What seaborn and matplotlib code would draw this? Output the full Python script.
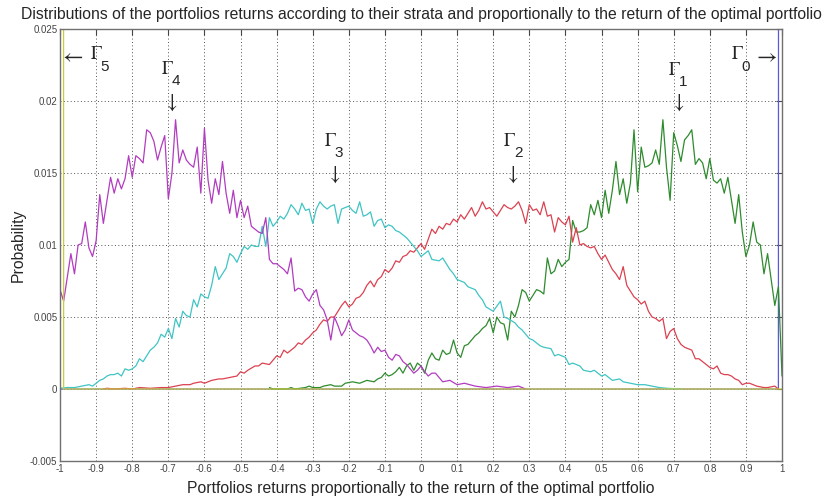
import numpy as np
import pandas as pd
import seaborn as sns
import matplotlib
import matplotlib.pyplot as plt

matplotlib.use('Agg')

sns.set_style('white')
plt.rcParams['font.family'] = ['Liberation Sans', 'DejaVu Sans']
plt.rcParams['mathtext.fontset'] = 'stix'

# strata distributions (x = return / optimal return)
g0_x = [-1.00, 0.99, 1.00]
g0_p = [0.0, 0.0, 1.0]

g1_x = [-0.42, -0.41, -0.37, -0.36, -0.35, -0.32, -0.31, -0.30, -0.28, -0.27,
        -0.25, -0.24, -0.22, -0.21, -0.19, -0.17, -0.15, -0.13, -0.12, -0.11,
        -0.10, -0.09, -0.08, -0.07, -0.06, -0.05, -0.04, -0.03, -0.02, -0.01,
        0.00, 0.01, 0.02, 0.03, 0.04, 0.05, 0.06, 0.07, 0.08, 0.09,
        0.10, 0.11, 0.12, 0.13, 0.14, 0.15, 0.16, 0.17, 0.18, 0.19,
        0.20, 0.21, 0.22, 0.23, 0.24, 0.25, 0.26, 0.27, 0.28, 0.29,
        0.30, 0.31, 0.32, 0.33, 0.34, 0.35, 0.36, 0.37, 0.38, 0.39,
        0.40, 0.41, 0.42, 0.43, 0.44, 0.45, 0.46, 0.47, 0.48, 0.49,
        0.50, 0.51, 0.52, 0.53, 0.54, 0.55, 0.56, 0.57, 0.58, 0.59,
        0.60, 0.61, 0.62, 0.63, 0.64, 0.65, 0.66, 0.67, 0.68, 0.69,
        0.70, 0.71, 0.72, 0.73, 0.74, 0.75, 0.76, 0.77, 0.78, 0.79,
        0.80, 0.81, 0.82, 0.83, 0.84, 0.85, 0.86, 0.87, 0.88, 0.89,
        0.90, 0.91, 0.92, 0.93, 0.94, 0.95, 0.96, 0.97, 0.98, 0.99,
        1.00]
g1_p = [.0001, .0000, .0000, .0001, .0000, .0001, .0002, .0001, .0001, .0002,
        .0003, .0002, .0002, .0004, .0005, .0004, .0006, .0005, .0007, .0008,
        .0011, .0009, .0010, .0012, .0015, .0011, .0016, .0018, .0013, .0018,
        .0016, .0011, .0020, .0025, .0021, .0020, .0027, .0024, .0025, .0034,
        .0025, .0022, .0030, .0031, .0034, .0037, .0039, .0042, .0044, .0049,
        .0039, .0050, .0046, .0045, .0034, .0054, .0050, .0058, .0069, .0067,
        .0061, .0065, .0069, .0068, .0066, .0091, .0080, .0082, .0090, .0085,
        .0088, .0090, .0117, .0109, .0109, .0110, .0112, .0128, .0121, .0131,
        .0119, .0138, .0122, .0138, .0158, .0135, .0146, .0129, .0143, .0180,
        .0137, .0168, .0154, .0155, .0157, .0166, .0156, .0187, .0154, .0131,
        .0178, .0169, .0158, .0173, .0176, .0180, .0156, .0160, .0157, .0146,
        .0160, .0145, .0143, .0146, .0136, .0147, .0131, .0115, .0135, .0109,
        .0092, .0100, .0116, .0102, .0100, .0080, .0094, .0076, .0058, .0071,
        .0009]

g2_x = [-0.88, -0.87, -0.85, -0.82, -0.80, -0.78, -0.75, -0.72, -0.70, -0.68,
        -0.66, -0.64, -0.63, -0.61, -0.60, -0.58, -0.56, -0.55, -0.53, -0.51,
        -0.50, -0.49, -0.48, -0.46, -0.45, -0.44, -0.42, -0.41, -0.40, -0.39,
        -0.38, -0.37, -0.36, -0.35, -0.34, -0.33, -0.32, -0.31, -0.30, -0.29,
        -0.28, -0.27, -0.26, -0.25, -0.24, -0.23, -0.22, -0.21, -0.20, -0.19,
        -0.18, -0.17, -0.16, -0.15, -0.14, -0.13, -0.12, -0.11, -0.10, -0.09,
        -0.08, -0.07, -0.06, -0.05, -0.04, -0.03, -0.02, -0.01, 0.00, 0.01,
        0.02, 0.03, 0.04, 0.05, 0.06, 0.07, 0.08, 0.09, 0.10, 0.11,
        0.12, 0.13, 0.14, 0.15, 0.16, 0.17, 0.18, 0.19, 0.20, 0.21,
        0.22, 0.23, 0.24, 0.25, 0.26, 0.27, 0.28, 0.29, 0.30, 0.31,
        0.32, 0.33, 0.34, 0.35, 0.36, 0.37, 0.38, 0.39, 0.40, 0.41,
        0.42, 0.43, 0.44, 0.45, 0.46, 0.47, 0.48, 0.49, 0.50, 0.51,
        0.52, 0.53, 0.54, 0.55, 0.56, 0.57, 0.58, 0.59, 0.60, 0.61,
        0.62, 0.63, 0.64, 0.65, 0.66, 0.67, 0.68, 0.69, 0.70, 0.71,
        0.72, 0.73, 0.74, 0.75, 0.76, 0.77, 0.78, 0.79, 0.80, 0.81,
        0.82, 0.83, 0.84, 0.85, 0.86, 0.87, 0.88, 0.89, 0.90, 0.91,
        0.93, 0.95, 0.96, 0.98, 0.99]
g2_p = [.0000, .00005, .0000, .00005, .0000, .0001, .00005, .0001, .0001, .0002,
        .0003, .0003, .0004, .0005, .0004, .0006, .0007, .0007, .0008, .0009,
        .0012, .0011, .0013, .0016, .0016, .0018, .0017, .0020, .0023, .0022,
        .0027, .0025, .0027, .0029, .0032, .0031, .0034, .0036, .0039, .0041,
        .0045, .0048, .0047, .0050, .0050, .0054, .0058, .0061, .0057, .0059,
        .0063, .0064, .0067, .0072, .0075, .0071, .0076, .0078, .0083, .0081,
        .0084, .0089, .0088, .0092, .0093, .0096, .0095, .0098, .0101, .0097,
        .0104, .0111, .0108, .0113, .0111, .0115, .0114, .0118, .0116, .0121,
        .0118, .0122, .0126, .0120, .0124, .0130, .0125, .0126, .0123, .0120,
        .0124, .0128, .0126, .0125, .0127, .0130, .0124, .0115, .0128, .0124,
        .0125, .0121, .0130, .0120, .0121, .0109, .0119, .0116, .0114, .0120,
        .0102, .0112, .0100, .0101, .0099, .0098, .0099, .0094, .0090, .0093,
        .0088, .0083, .0080, .0076, .0085, .0072, .0068, .0064, .0062, .0059,
        .0061, .0054, .0050, .0049, .0047, .0049, .0035, .0040, .0042, .0035,
        .0031, .0029, .0028, .0027, .0021, .0021, .0019, .0017, .0015, .0014,
        .0016, .0011, .0010, .0010, .0009, .0007, .0006, .0003, .0004, .0004,
        .0002, .0001, .0001, .0002, .0000]

g3_x = [-1.00, -0.98, -0.96, -0.94, -0.92, -0.91, -0.89, -0.88, -0.87, -0.86,
        -0.85, -0.84, -0.83, -0.82, -0.81, -0.80, -0.79, -0.78, -0.77, -0.76,
        -0.75, -0.74, -0.73, -0.72, -0.71, -0.70, -0.69, -0.68, -0.67, -0.66,
        -0.65, -0.64, -0.63, -0.62, -0.61, -0.60, -0.59, -0.58, -0.57, -0.56,
        -0.55, -0.54, -0.53, -0.52, -0.51, -0.50, -0.49, -0.48, -0.47, -0.46,
        -0.45, -0.44, -0.43, -0.42, -0.41, -0.40, -0.39, -0.38, -0.37, -0.36,
        -0.35, -0.34, -0.33, -0.32, -0.31, -0.30, -0.29, -0.28, -0.27, -0.26,
        -0.25, -0.24, -0.23, -0.22, -0.21, -0.20, -0.19, -0.18, -0.17, -0.16,
        -0.15, -0.14, -0.13, -0.12, -0.11, -0.10, -0.09, -0.08, -0.07, -0.06,
        -0.05, -0.04, -0.03, -0.02, -0.01, 0.00, 0.02, 0.03, 0.05, 0.06,
        0.08, 0.09, 0.10, 0.11, 0.12, 0.13, 0.15, 0.16, 0.17, 0.18,
        0.20, 0.22, 0.23, 0.24, 0.26, 0.27, 0.28, 0.30, 0.31, 0.33,
        0.34, 0.36, 0.37, 0.38, 0.40, 0.41, 0.42, 0.44, 0.45, 0.47,
        0.48, 0.50, 0.51, 0.53, 0.55, 0.56, 0.58, 0.60, 0.62, 0.64,
        0.66, 0.68, 0.72]
g3_p = [.00005, .0001, .0001, .0002, .0003, .0002, .0006, .0007, .0009, .0010,
        .0010, .0011, .0009, .0014, .0013, .0014, .0016, .0021, .0019, .0023,
        .0027, .0029, .0032, .0038, .0036, .0042, .0035, .0049, .0043, .0054,
        .0051, .0050, .0062, .0057, .0066, .0064, .0063, .0072, .0085, .0076,
        .0080, .0084, .0094, .0092, .0088, .0094, .0099, .0097, .0100, .0099,
        .0099, .0113, .0099, .0119, .0113, .0116, .0120, .0118, .0122, .0128,
        .0125, .0121, .0129, .0124, .0125, .0115, .0125, .0130, .0127, .0125,
        .0127, .0128, .0115, .0125, .0126, .0127, .0124, .0122, .0130, .0120,
        .0121, .0123, .0113, .0117, .0118, .0112, .0114, .0113, .0110, .0109,
        .0107, .0105, .0102, .0099, .0096, .0092, .0096, .0090, .0089, .0091,
        .0083, .0080, .0076, .0075, .0074, .0071, .0069, .0065, .0062, .0057,
        .0054, .0061, .0050, .0049, .0046, .0043, .0041, .0035, .0034, .0030,
        .0029, .0028, .0023, .0024, .0022, .0017, .0018, .0016, .0013, .0012,
        .0013, .0009, .0010, .0006, .0007, .0005, .0004, .0003, .0003, .0002,
        .0001, .00005, .0000]

g4_x = [-1.00, -0.99, -0.97, -0.96, -0.95, -0.94, -0.93, -0.92, -0.91, -0.90,
        -0.89, -0.88, -0.87, -0.86, -0.85, -0.84, -0.83, -0.82, -0.81, -0.80,
        -0.79, -0.78, -0.77, -0.76, -0.75, -0.74, -0.73, -0.72, -0.71, -0.70,
        -0.69, -0.68, -0.67, -0.66, -0.65, -0.64, -0.63, -0.62, -0.61, -0.60,
        -0.59, -0.58, -0.57, -0.56, -0.55, -0.54, -0.53, -0.52, -0.51, -0.50,
        -0.49, -0.48, -0.47, -0.46, -0.45, -0.44, -0.43, -0.42, -0.41, -0.40,
        -0.39, -0.38, -0.37, -0.36, -0.35, -0.34, -0.33, -0.32, -0.31, -0.30,
        -0.29, -0.28, -0.27, -0.26, -0.25, -0.24, -0.23, -0.22, -0.21, -0.20,
        -0.19, -0.18, -0.17, -0.16, -0.15, -0.14, -0.13, -0.12, -0.11, -0.10,
        -0.09, -0.08, -0.07, -0.06, -0.05, -0.04, -0.03, -0.02, -0.01, 0.00,
        0.01, 0.02, 0.03, 0.04, 0.05, 0.06, 0.08, 0.10, 0.12, 0.15,
        0.18, 0.21, 0.24, 0.27, 0.29]
g4_p = [.0069, .0061, .0094, .0080, .0100, .0101, .0116, .0098, .0092, .0103,
        .0135, .0115, .0131, .0147, .0136, .0146, .0139, .0146, .0162, .0147,
        .0162, .0160, .0157, .0180, .0178, .0172, .0159, .0168, .0176, .0132,
        .0150, .0187, .0157, .0166, .0159, .0156, .0154, .0168, .0136, .0181,
        .0145, .0129, .0146, .0135, .0158, .0136, .0122, .0138, .0119, .0131,
        .0119, .0127, .0113, .0111, .0109, .0108, .0119, .0090, .0087, .0087,
        .0085, .0083, .0080, .0091, .0068, .0070, .0069, .0064, .0061, .0066,
        .0069, .0058, .0055, .0048, .0034, .0050, .0044, .0037, .0041, .0048,
        .0041, .0039, .0037, .0036, .0034, .0030, .0025, .0029, .0026, .0027,
        .0022, .0020, .0024, .0023, .0019, .0017, .0014, .0011, .0013, .0016,
        .0012, .0009, .0011, .0011, .0008, .0005, .0006, .0003, .0004, .0002,
        .0001, .0002, .0001, .0002, .0000]

g5_x = [-1.00, -0.99, 1.00]
g5_p = [1.0, 0.0, 0.0]

strata = ['G0', 'G1', 'G2', 'G3', 'G4', 'G5']
colors = ['#5a5ad6', '#2e8b2e', '#dc4150', '#40c4c4', '#b23cc0', '#cccc3a']

frames = []
for name, xs, ps in zip(strata, [g0_x, g1_x, g2_x, g3_x, g4_x, g5_x],
                        [g0_p, g1_p, g2_p, g3_p, g4_p, g5_p]):
    frames.append(pd.DataFrame({'ret': xs, 'prob': ps, 'strata': name}))
allDat = pd.concat(frames, ignore_index=True)

xticks = [-1, -0.9, -0.8, -0.7, -0.6, -0.5, -0.4, -0.3, -0.2, -0.1,
          0, 0.1, 0.2, 0.3, 0.4, 0.5, 0.6, 0.7, 0.8, 0.9, 1]
xticklabels = ['-1', '-0.9', '-0.8', '-0.7', '-0.6', '-0.5', '-0.4', '-0.3', '-0.2', '-0.1',
               '0', '0.1', '0.2', '0.3', '0.4', '0.5', '0.6', '0.7', '0.8', '0.9', '1']
yticks = [-0.005, 0, 0.005, 0.01, 0.015, 0.02, 0.025]
yticklabels = ['-0.005', '0', '0.005', '0.01', '0.015', '0.02', '0.025']

fig = plt.figure(figsize=(8.27, 5), dpi=100)
ax = fig.add_axes([0.0726, 0.078, 0.873, 0.864])

sns.lineplot(data=allDat, x='ret', y='prob', hue='strata', hue_order=strata,
             palette=colors, estimator=None, sort=False, legend=False,
             lw=0.9, ax=ax)

ax.set_xlim(-1, 1)
ax.set_ylim(-0.005, 0.025)
ax.set_xticks(xticks)
ax.set_xticklabels(xticklabels)
ax.set_yticks(yticks)
ax.set_yticklabels(yticklabels)
ax.grid(True, linestyle=(0, (1, 2.5)), color='#555555', lw=0.7)
ax.tick_params(axis='both', which='both', direction='in', length=4,
               top=True, right=True, labelsize=7, colors='#444444', pad=2)
for s in ax.spines.values():
    s.set_color('#707070')
    s.set_linewidth(1.0)

ax.set_title('Distributions of the portfolios returns according to their strata '
             'and proportionally to the return of the optimal portfolio',
             fontsize=11.3, pad=7)
ax.set_xlabel('Portfolios returns proportionally to the return of the optimal portfolio',
              fontsize=11.3, labelpad=5)
ax.set_ylabel('Probability', fontsize=11.3, labelpad=3)

# strata annotations: Gamma (serif) with a big sans subscript, as in the original
def gamma_label(x, y, k):
    ax.text(x, y, r'$\Gamma$', fontsize=13.5, ha='left', va='baseline')
    ax.annotate(k, xy=(x, y), xytext=(7.8, -8.2), textcoords='offset points',
                fontsize=11, ha='left', va='baseline')

gamma_label(-0.917, 0.0229, '5')
gamma_label(0.858, 0.0229, '0')
gamma_label(-0.720, 0.0219, '4')
gamma_label(-0.270, 0.0169, '3')
gamma_label(0.228, 0.0169, '2')
gamma_label(0.683, 0.0218, '1')

ax.text(-1.002, 0.0231, r'$\leftarrow$', fontsize=16, ha='left', va='center')
ax.text(0.988, 0.0231, r'$\rightarrow$', fontsize=16, ha='right', va='center')
for xpos, ytip in [(-0.695, 0.0192), (-0.244, 0.0142), (0.25, 0.0142), (0.709, 0.0192)]:
    ax.text(xpos, ytip, r'$\downarrow$', fontsize=15, ha='center', va='bottom')

fig.savefig('out.png', dpi=100)
